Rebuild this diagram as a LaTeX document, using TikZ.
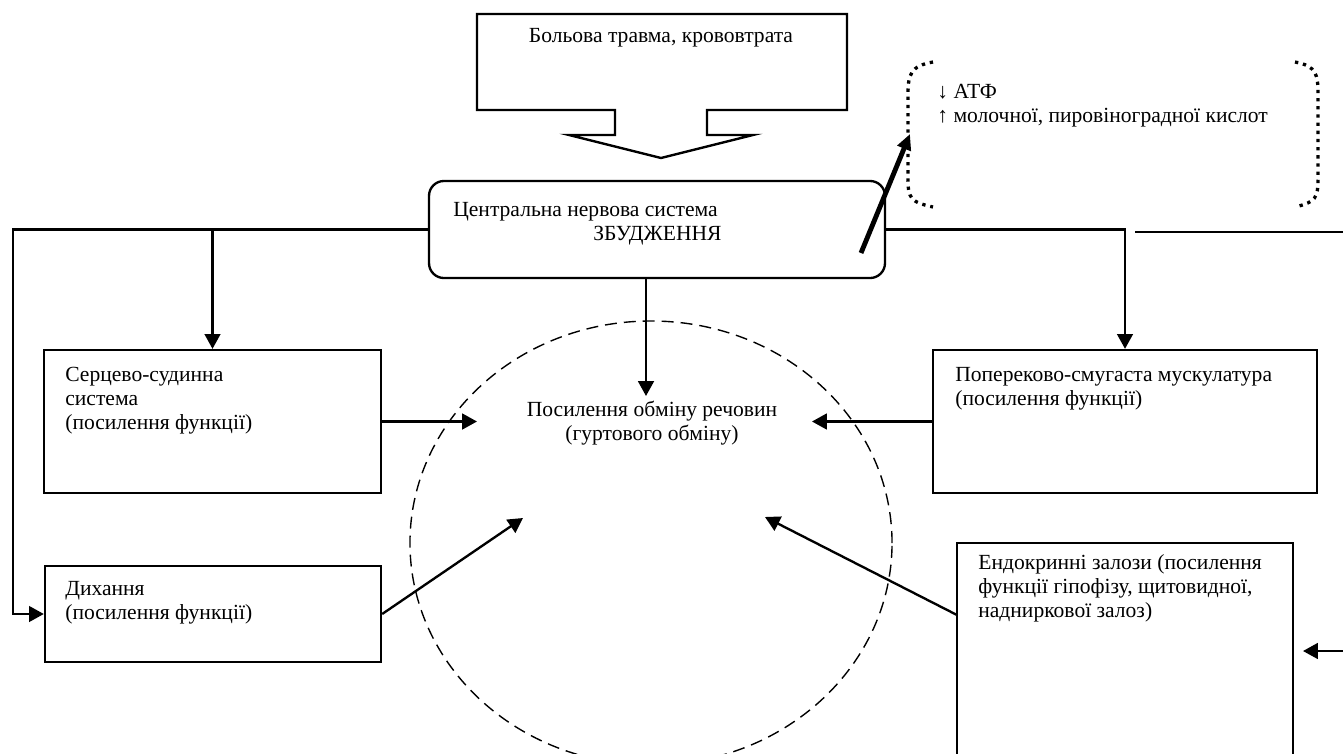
\documentclass[tikz,border=0pt]{standalone}
\usepackage{fontspec}
\setmainfont{Liberation Serif}
\usetikzlibrary{arrows.meta,shapes.geometric}
\begin{document}
\begin{tikzpicture}[x=0.575pt,y=-0.575pt,
  ln/.style={line width=1.35pt},
  arr/.style={line width=1.35pt,-{Triangle[length=8.5pt,width=9pt]}},
  box/.style={draw,line width=1.35pt,rectangle,inner sep=0pt},
  txt/.style={inner sep=0pt,align=left,font=\fontsize{12.4}{13.8}\selectfont},
  dots/.style={line width=1.9pt,dash pattern=on 1.9pt off 2.8pt}]
\useasboundingbox (0,0) rectangle (1343,754);
\clip (0,0) rectangle (1343,754);
% top block arrow
\draw[ln,line join=miter] (477,14) -- (847,14) -- (847,110) -- (707,110) -- (707,135) -- (753,135) -- (661,158) -- (569,135) -- (615,135) -- (615,110) -- (477,110) -- cycle;
\node[txt] (bol) at (661,38) {Больова травма, крововтрата};
% CNS
\node[box,rounded corners=8.6pt,minimum width=262.2pt,minimum height=55.8pt] (cns) at (657,229.5) {};
\node[txt,anchor=north west] (cnst) at (453,202) {Центральна нервова система\\\hspace*{80.5pt}ЗБУДЖЕННЯ};
% boxes
\node[box,minimum width=193.8pt,minimum height=82.2pt] (serc) at (212.5,421.5) {};
\node[txt,anchor=north west] (serct) at (65,367) {Серцево-судинна\\система\\(посилення функції)};
\node[box,minimum width=193.2pt,minimum height=55.2pt] (dykh) at (213,614) {};
\node[txt,anchor=north west] (dykht) at (65,581) {Дихання\\(посилення функції)};
\node[box,minimum width=220.8pt,minimum height=82.2pt] (popr) at (1125,421.5) {};
\node[txt,anchor=north west] (poprt) at (955,367) {Попереково-смугаста мускулатура\\(посилення функції)};
\node[box,minimum width=193.2pt,minimum height=130.5pt] (endo) at (1125,656.5) {};
\node[txt,anchor=north west] (endot) at (978,554) {Ендокринні залози (посилення\\функції гіпофізу, щитовидної,\\надниркової залоз)};
% ellipse
\node[ellipse,draw,line width=0.8pt,dash pattern=on 6.9pt off 4pt,minimum width=277.2pt,minimum height=255.3pt,inner sep=0pt] (ell) at (651,543) {};
\node[txt,align=center] (met) at (652,423.5) {Посилення обміну речовин\\(гуртового обміну)};
% dotted bracket
\draw[dots] (933,62) .. controls (910,66) and (908,75) .. (908,95) -- (908,178) .. controls (908,198) and (910,202) .. (933,207);
\draw[dots] (1295,62) .. controls (1317,66) and (1318,75) .. (1318,95) -- (1318,178) .. controls (1318,198) and (1316,202) .. (1295,207);
\node[txt,anchor=north west] (atf) at (937,84) {↓ АТФ\\↑ молочної, пировіноградної кислот};
% coordinates
\coordinate (lx) at (13,229.5);
\coordinate (bl) at (212.5,229.5);
\coordinate (mtop) at (646,396);
\coordinate (mL) at (477,421.5);
\coordinate (mR) at (812,421.5);
\coordinate (mDL) at (523,518);
\coordinate (mDR) at (765,517);
\coordinate (eL) at (957,615);
\coordinate (r1) at (1135,232);
\coordinate (r2) at (1343,232);
\coordinate (r3) at (1343,651);
\coordinate (r4) at (1303,651);
\coordinate (ta1) at (861,253);
\coordinate (ta2) at (910,134);
% connectors
\draw[arr] (cns.west) -- (lx) |- (dykh.west);
\draw[arr] (bl) -- (serc.north);
\draw[arr] (cns.east) -| (popr.north);
\draw[arr] (mtop |- cns.south) -- (mtop);
\draw[arr] (serc.east) -- (mL);
\draw[arr] (popr.west) -- (mR);
\draw[arr] (dykh.east) -- (mDL);
\draw[arr] (eL) -- (mDR);
\draw[ln] (r1) -- (r2);
\draw[arr] (r3) -- (r4);
\draw[line width=2.8pt,-{Triangle[length=9pt,width=8pt]}] (ta1) -- (ta2);
\end{tikzpicture}
\end{document}
